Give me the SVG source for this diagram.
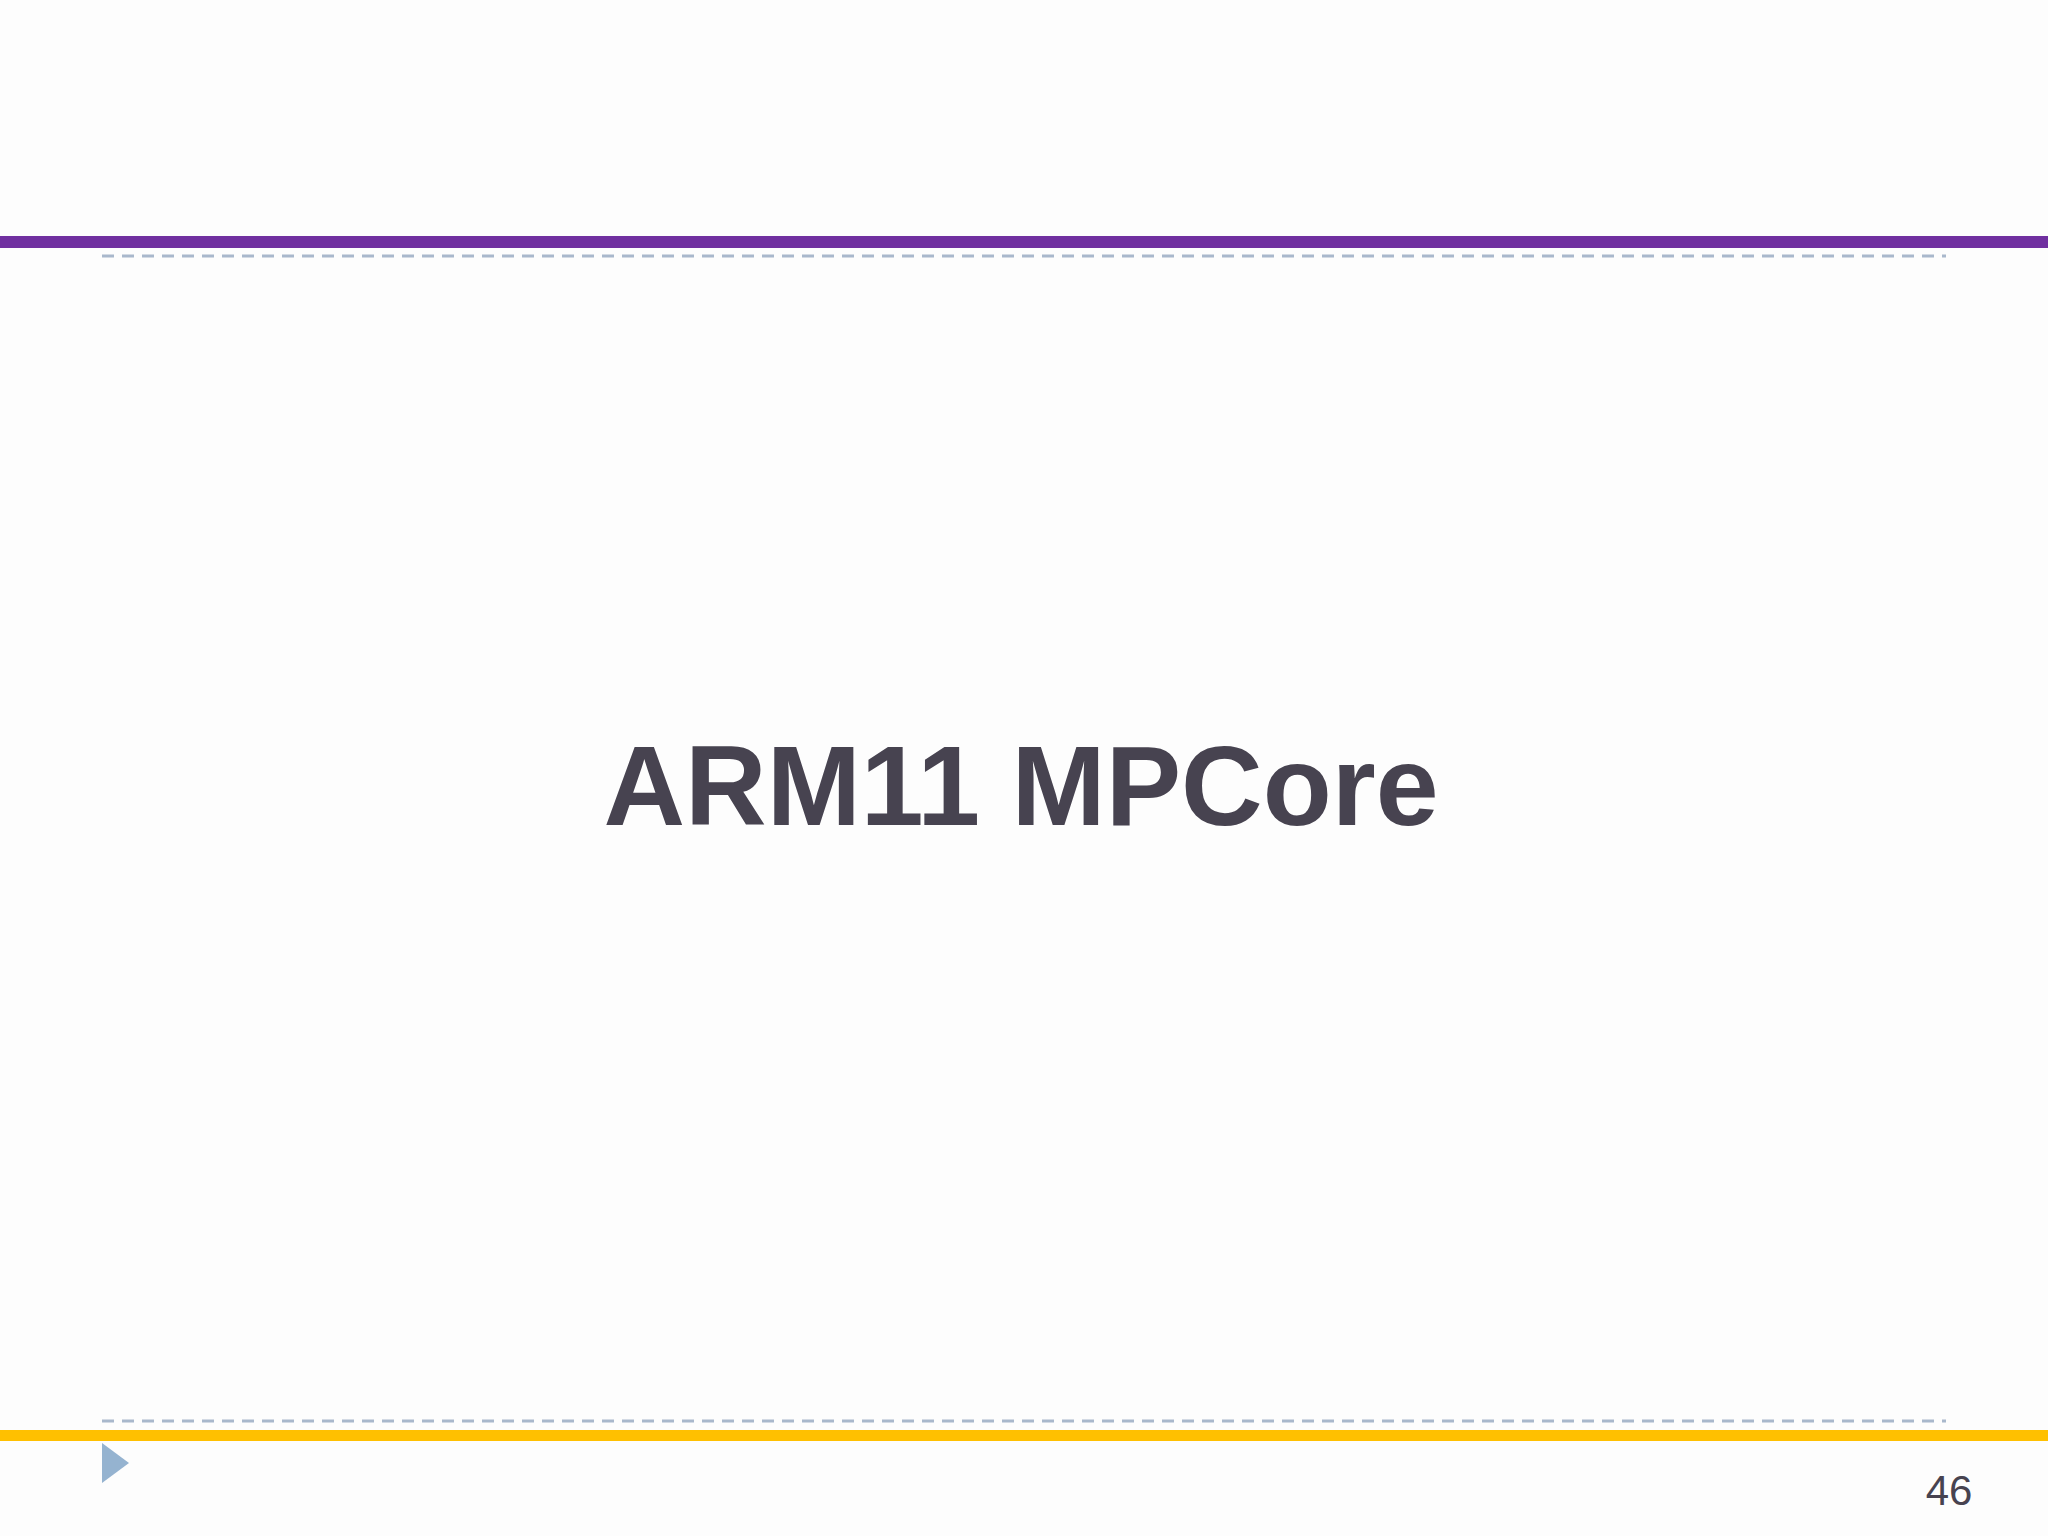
<svg xmlns="http://www.w3.org/2000/svg" width="2048" height="1536" viewBox="0 0 2048 1536">
<style>
.dash{stroke:#a9b8cc;stroke-width:3;stroke-dasharray:12,8}
</style>
<rect width="2048" height="1536" fill="#fdfdfd"/>
<g id="header">
<rect x="0" y="236" width="2048" height="12" fill="#7030a0"/>
<line class="dash" x1="102" y1="256" x2="1946" y2="256"/>
</g>
<g id="title">
<text x="1021" y="825" text-anchor="middle" font-family="Liberation Sans, Arial, sans-serif" font-weight="bold" font-size="113" fill="#474350">ARM11 MPCore</text>
</g>
<g id="footer">
<line class="dash" x1="102" y1="1421" x2="1946" y2="1421"/>
<rect x="0" y="1430" width="2048" height="11" fill="#ffc000"/>
<polygon points="102,1443 129,1463 102,1483" fill="#95b3d0"/>
<text x="1949" y="1505" text-anchor="middle" font-family="Liberation Sans, Arial, sans-serif" font-size="42" fill="#474350">46</text>
</g>
</svg>
